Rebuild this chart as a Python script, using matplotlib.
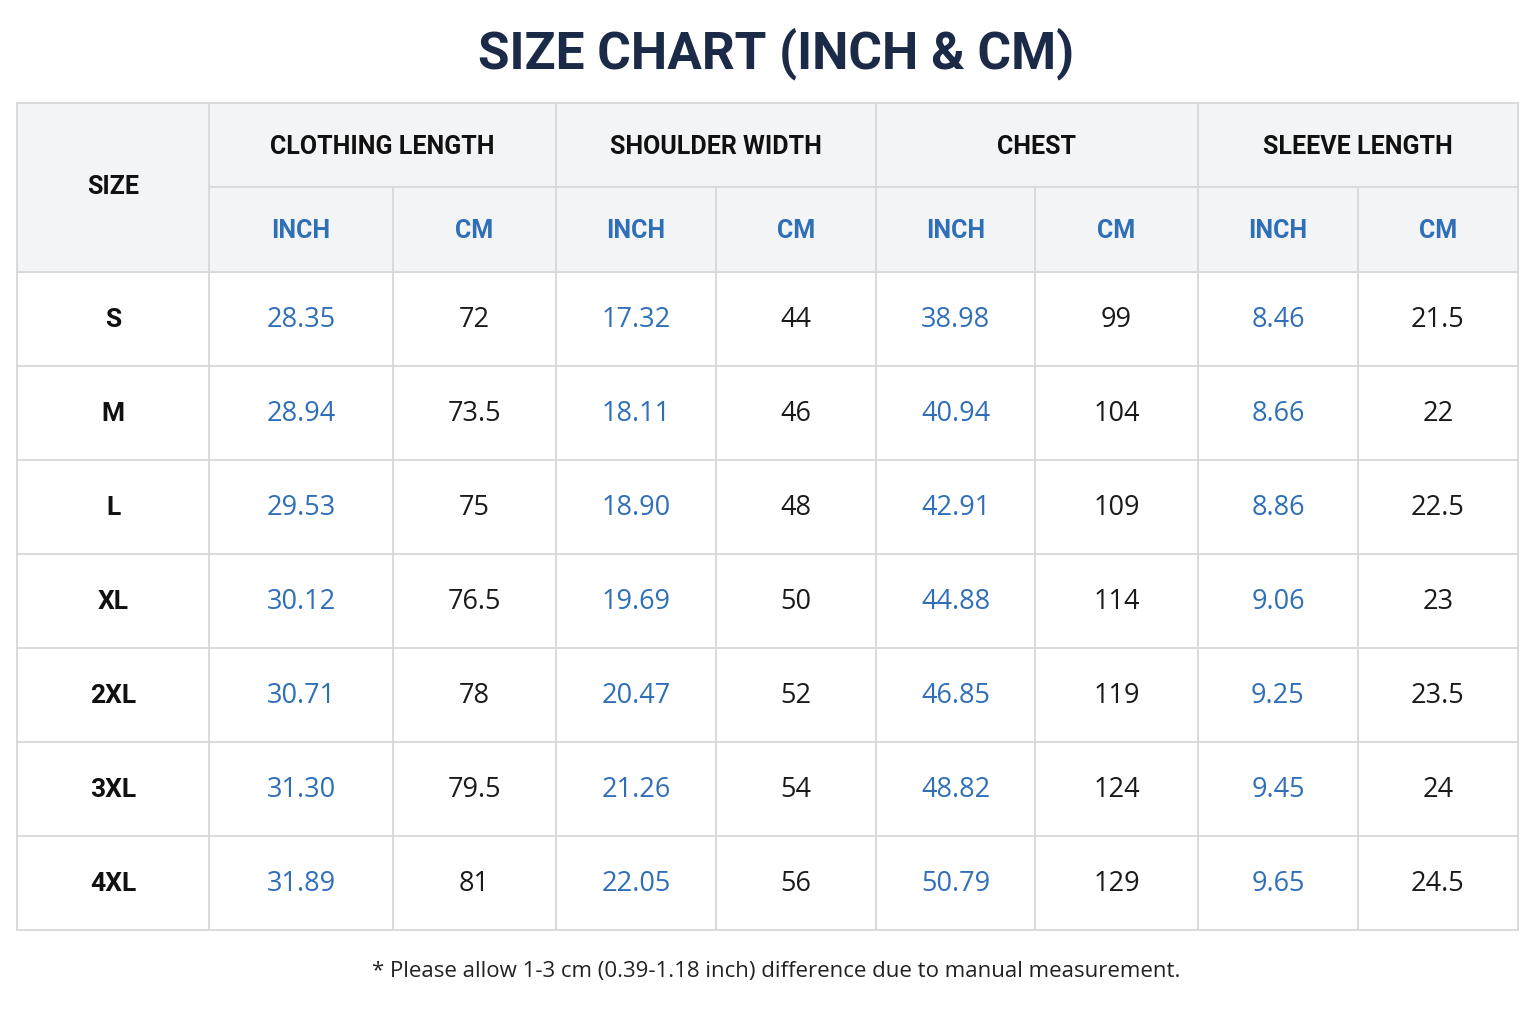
import matplotlib
matplotlib.use("Agg")
import matplotlib.pyplot as plt
from matplotlib.patches import Rectangle

sizes = ["S", "M", "L", "XL", "2XL", "3XL", "4XL"]
groups = ["CLOTHING LENGTH", "SHOULDER WIDTH", "CHEST", "SLEEVE LENGTH"]
units = ["INCH", "CM"]
length_in = ["28.35", "28.94", "29.53", "30.12", "30.71", "31.30", "31.89"]
length_cm = ["72", "73.5", "75", "76.5", "78", "79.5", "81"]
shoulder_in = ["17.32", "18.11", "18.90", "19.69", "20.47", "21.26", "22.05"]
shoulder_cm = ["44", "46", "48", "50", "52", "54", "56"]
chest_in = ["38.98", "40.94", "42.91", "44.88", "46.85", "48.82", "50.79"]
chest_cm = ["99", "104", "109", "114", "119", "124", "129"]
sleeve_in = ["8.46", "8.66", "8.86", "9.06", "9.25", "9.45", "9.65"]
sleeve_cm = ["21.5", "22", "22.5", "23", "23.5", "24", "24.5"]
title = "SIZE CHART (INCH & CM)"
note = "* Please allow 1-3 cm (0.39-1.18 inch) difference due to manual measurement."

columns = [length_in, length_cm, shoulder_in, shoulder_cm, chest_in, chest_cm, sleeve_in, sleeve_cm]

xs = [17, 209, 393, 556, 716, 876, 1035, 1198, 1358, 1518]
ys = [103, 187, 272] + [272 + 94 * (i + 1) for i in range(7)]
ys[-1] = 930

NAVY = "#1b2a47"
BLUE = "#2f6fb8"
GRID = "#d8d8d8"
HDR = "#f3f4f6"
FONT = "Roboto"
NUMFONT = "Open Sans"

fig = plt.figure(figsize=(15.37, 10.23), dpi=100)
ax = fig.add_axes([0, 0, 1, 1])
ax.set_xlim(0, 1537)
ax.set_ylim(1023, 0)
ax.axis("off")

ax.add_patch(Rectangle((xs[0], ys[0]), xs[-1] - xs[0], ys[2] - ys[0], color=HDR, zorder=0))

lw = 1.3
ax.plot([xs[0], xs[-1]], [ys[0], ys[0]], color=GRID, lw=lw)
ax.plot([xs[1], xs[-1]], [ys[1], ys[1]], color=GRID, lw=lw)
for y in ys[2:]:
    ax.plot([xs[0], xs[-1]], [y, y], color=GRID, lw=lw)
for i, x in enumerate(xs):
    if i in (0, 1, 3, 5, 7, 9):
        ax.plot([x, x], [ys[0], ys[-1]], color=GRID, lw=lw)
    else:
        ax.plot([x, x], [ys[1], ys[-1]], color=GRID, lw=lw)

ax.text(776, 54, title, ha="center", va="center", fontsize=37, fontweight="bold", color=NAVY, family=FONT)

ax.text((xs[0] + xs[1]) / 2, (ys[0] + ys[2]) / 2, "SIZE", ha="center", va="center",
        fontsize=18, fontweight="bold", color="#111111", family=FONT)
for g, name in enumerate(groups):
    xa, xb = xs[1 + 2 * g], xs[3 + 2 * g]
    ax.text((xa + xb) / 2, (ys[0] + ys[1]) / 2 + 2, name, ha="center", va="center",
            fontsize=18, fontweight="bold", color="#111111", family=FONT)
for c in range(8):
    ax.text((xs[1 + c] + xs[2 + c]) / 2, (ys[1] + ys[2]) / 2 + 2, units[c % 2], ha="center", va="center",
            fontsize=18, fontweight="bold", color=BLUE, family=FONT)

for r, s in enumerate(sizes):
    yc = (ys[2 + r] + ys[3 + r]) / 2 + 1
    ax.text((xs[0] + xs[1]) / 2, yc, s, ha="center", va="center",
            fontsize=19, fontweight="bold", color="#111111", family=FONT)
    for c, col in enumerate(columns):
        ax.text((xs[1 + c] + xs[2 + c]) / 2, yc, col[r], ha="center", va="center",
                fontsize=19.5, color=BLUE if c % 2 == 0 else "#1a1a1a", family=NUMFONT)

ax.text(776, 971, note, ha="center", va="center", fontsize=16, color="#222222", family=NUMFONT)

fig.savefig("out.png", dpi=100, facecolor="white")
